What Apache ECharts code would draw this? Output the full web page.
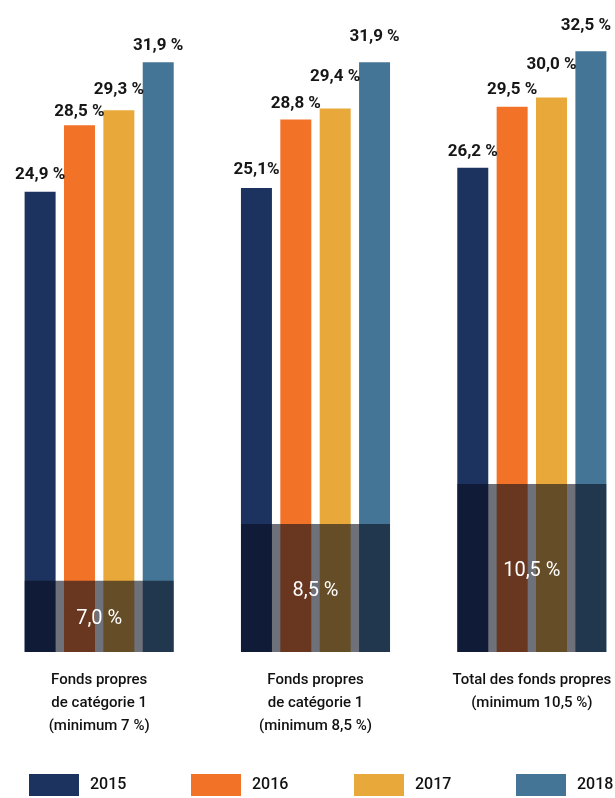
<!DOCTYPE html>
<html>
<head>
<meta charset="utf-8">
<script src="https://cdn.jsdelivr.net/npm/echarts@6/dist/echarts.min.js"></script>
<style>
html,body{margin:0;padding:0;background:#fff;}
#chart{width:615px;height:798px;}
</style>
</head>
<body>
<div id="chart"></div>
<script>
// ---- data ----
var categories = ['Fonds propres\nde catégorie 1\n(minimum 7 %)', 'Fonds propres\nde catégorie 1\n(minimum 8,5 %)', 'Total des fonds propres\n(minimum 10,5 %)'];
var years = ['2015', '2016', '2017', '2018'];
var values2015 = [24.9, 25.1, 26.2];
var values2016 = [28.5, 28.8, 29.5];
var values2017 = [29.3, 29.4, 30.0];
var values2018 = [31.9, 31.9, 32.5];
var labels2015 = ['24,9 %', '25,1%', '26,2 %'];
var labels2016 = ['28,5 %', '28,8 %', '29,5 %'];
var labels2017 = ['29,3 %', '29,4 %', '30,0 %'];
var labels2018 = ['31,9 %', '31,9 %', '32,5 %'];
var minimumLabels = ['7,0 %', '8,5 %', '10,5 %'];
// drawn height of the "minimum" boxes (axis units)
var minimumBoxHeights = [3.86, 6.92, 9.09];

// ---- layout / style ----
var colors = ['#1d335f', '#f27228', '#e8a93a', '#457596'];
var FONT = "Roboto, 'Liberation Sans Narrow', sans-serif";
// gap (px) between each value label and the top of its bar, per series / group
var labelGaps = [[8, 10, 7], [5, 7, 8], [12, 23, 24], [8, 17, 17]];

var seriesValues = [values2015, values2016, values2017, values2018];
var seriesLabels = [labels2015, labels2016, labels2017, labels2018];

var chart = echarts.init(document.getElementById('chart'));

var series = years.map(function (y, i) {
  return {
    name: y,
    type: 'bar',
    xAxisIndex: 0,
    yAxisIndex: 0,
    barWidth: 31,
    barGap: '27%',
    z: 2,
    itemStyle: { color: colors[i] },
    label: {
      show: true,
      position: 'top',
      fontFamily: FONT,
      fontWeight: 'bold',
      fontSize: 17,
      color: '#161616',
      formatter: function (p) { return seriesLabels[i][p.dataIndex]; }
    },
    data: seriesValues[i].map(function (v, j) {
      var item = { value: v, label: { distance: labelGaps[i][j] } };
      if (i === 3 && j === 2) item.label.offset = [-5, 0];
      return item;
    })
  };
});

series.push({
  name: 'minimum',
  type: 'bar',
  xAxisIndex: 1,
  yAxisIndex: 0,
  barWidth: 149,
  z: 5,
  itemStyle: { color: 'rgba(5,10,25,0.58)' },
  label: {
    show: true,
    position: 'inside',
    offset: [0, 3],
    fontFamily: FONT,
    fontSize: 20,
    color: '#ffffff',
    formatter: function (p) { return minimumLabels[p.dataIndex]; }
  },
  data: minimumBoxHeights
});

var legendLefts = [29, 191, 354, 516];
var legends = years.map(function (y, i) {
  return {
    data: [y],
    left: legendLefts[i],
    top: 774,
    padding: 0,
    icon: 'rect',
    itemWidth: 50,
    itemHeight: 22,
    selectedMode: false,
    textStyle: { fontFamily: FONT, fontSize: 16, fontWeight: 500, color: '#111', padding: [0, 0, 0, 6] }
  };
});

chart.setOption({
  animation: false,
  backgroundColor: '#ffffff',
  legend: legends,
  grid: { left: -9, right: -25, top: 5, bottom: 146, containLabel: false, outerBoundsMode: 'none' },
  xAxis: [
    {
      type: 'category',
      data: categories,
      axisLine: { show: false },
      axisTick: { show: false },
      axisLabel: {
        margin: 17,
        fontFamily: FONT,
        fontSize: 15,
        fontWeight: 500,
        lineHeight: 23,
        color: '#111',
        interval: 0,
        verticalAlign: 'top',
        hideOverlap: false
      }
    },
    {
      type: 'category',
      data: categories,
      show: false
    }
  ],
  yAxis: {
    type: 'value',
    min: 0,
    max: 35,
    show: false,
    splitLine: { show: false }
  },
  series: series
});
</script>
</body>
</html>
